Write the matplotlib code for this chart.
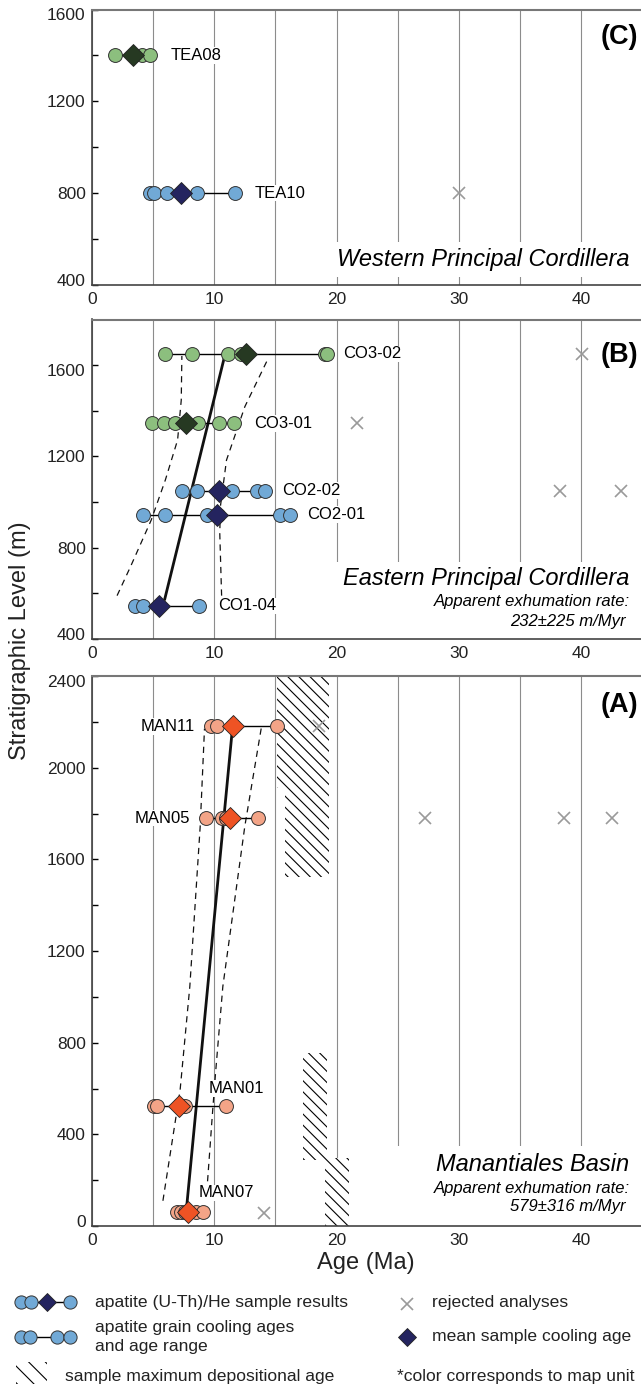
import numpy as np
import matplotlib
matplotlib.use('Agg')
import matplotlib.pyplot as plt
import matplotlib.transforms as mtransforms
from matplotlib.patches import Rectangle

plt.rcParams['font.family'] = ['Liberation Sans', 'DejaVu Sans']
plt.rcParams['hatch.linewidth'] = 0.8

# ---- (C) Western Principal Cordillera
c_names = ['TEA08', 'TEA10']
c_levels = [1400, 800]
c_grains = [[1.9, 4.1, 4.75], [4.75, 5.1, 6.1, 8.55, 11.7]]
c_means = [3.35, 7.25]
c_label_x = [6.45, 13.3]
c_rej_age = [30.05]
c_rej_lvl = [800]

# ---- (B) Eastern Principal Cordillera
b_names = ['CO3-02', 'CO3-01', 'CO2-02', 'CO2-01', 'CO1-04']
b_levels = [1650, 1345, 1050, 945, 545]
b_grains = [[5.98, 8.2, 11.1, 12.15, 19.05, 19.2],
            [4.9, 5.85, 6.8, 7.6, 8.65, 10.4, 11.6],
            [7.4, 8.6, 10.3, 11.45, 13.5, 14.15],
            [4.15, 6.0, 9.4, 10.3, 15.35, 16.2],
            [3.55, 4.15, 8.75]]
b_means = [12.6, 7.7, 10.35, 10.25, 5.5]
b_label_x = [20.5, 13.25, 15.55, 17.6, 10.35]
b_rej_age = [40.1, 21.7, 38.25, 43.25]
b_rej_lvl = [1650, 1345, 1050, 1050]
b_fit_age = [5.95, 10.85]
b_fit_lvl = [575, 1640]
b_lo_age = [2.05, 3.15, 4.85, 6.0, 7.0, 7.3, 7.35]
b_lo_lvl = [590, 717, 922, 1097, 1272, 1447, 1640]
b_hi_age = [10.6, 10.45, 10.5, 11.0, 12.5, 14.45]
b_hi_lvl = [590, 863, 980, 1184, 1418, 1634]

# ---- (A) Manantiales Basin
a_names = ['MAN11', 'MAN05', 'MAN01', 'MAN07']
a_levels = [2180, 1780, 525, 60]
a_grains = [[9.7, 10.2, 15.15],
            [9.35, 10.6, 11.0, 13.6],
            [5.1, 5.35, 7.6, 10.95],
            [6.95, 7.25, 7.6, 8.5, 9.05]]
a_means = [11.55, 11.25, 7.1, 7.85]
a_label_x = [8.45, 8.0, 9.5, 8.7]
a_label_y = [2180, 1780, 600, 145]
a_label_ha = ['right', 'right', 'left', 'left']
a_rej_age = [18.55, 27.2, 38.6, 42.55, 14.1]
a_rej_lvl = [2180, 1780, 1780, 1780, 55]
a_fit_age = [7.7, 11.5]
a_fit_lvl = [60, 2180]
a_lo_age = [5.8, 7.2, 8.0, 8.85, 9.2]
a_lo_lvl = [110, 590, 1045, 1745, 2170]
a_hi_age = [9.45, 9.85, 10.1, 10.7, 12.5, 13.85]
a_hi_lvl = [195, 490, 665, 1045, 1745, 2175]
# sample maximum depositional ages: (min age, max age), (min level, max level)
a_mda_age = [(15.15, 19.35), (15.8, 19.35), (17.25, 19.25), (19.05, 21.05)]
a_mda_lvl = [(1910, 2450), (1525, 2040), (290, 757), (-50, 297)]

GREEN, DKGREEN = '#8cbf7e', '#263922'
BLUE, NAVY = '#71a9d6', '#24245f'
SALMON, ORANGE = '#f3a487', '#ee5324'
REJ = '#9a9a9a'
HATCH = '\\\\\\'

W, H = 641.0, 1384.0
fig = plt.figure(figsize=(W / 100, H / 100), dpi=100)


def px_axes(top, bottom, left=92, right=641):
    return fig.add_axes([left / W, 1 - bottom / H, (right - left) / W, (bottom - top) / H])


def style(ax, ylim, major, minor):
    ax.set_xlim(0, 44.9)
    ax.set_ylim(*ylim)
    ax.set_xticks(np.arange(0, 41, 10))
    ax.set_xticks(np.arange(5, 45, 10), minor=True)
    ax.set_yticks(major)
    ax.set_yticks(minor, minor=True)
    ax.grid(axis='x', which='both', color='#8c8c8c', lw=0.8)
    ax.set_axisbelow(True)
    ax.tick_params(axis='x', which='both', length=0, pad=5, labelsize=12.5, labelcolor='#222222')
    ax.tick_params(axis='y', which='both', direction='in', length=4, width=1, pad=4.5,
                   labelsize=12.5, labelcolor='#222222')
    ax.spines['right'].set_visible(False)
    ax.spines['top'].set_color('#777777')
    ax.spines['top'].set_linewidth(1.5)
    for s in ['left', 'bottom']:
        ax.spines[s].set_color('#444444')
        ax.spines[s].set_linewidth(1.2)
    labels = ax.get_yticklabels()
    labels[0].set_transform(labels[0].get_transform() +
                            mtransforms.ScaledTranslation(0, 0.05, fig.dpi_scale_trans))
    labels[-1].set_transform(labels[-1].get_transform() +
                             mtransforms.ScaledTranslation(0, -0.05, fig.dpi_scale_trans))


def draw_samples(ax, levels, grains, means, face, dark):
    for lvl, g, m in zip(levels, grains, means):
        ax.plot([min(g), max(g)], [lvl, lvl], color='black', lw=1, zorder=3)
        ax.plot(g, [lvl] * len(g), 'o', ms=10, mfc=face, mec='#333333', mew=0.7, zorder=4)
        ax.plot([m], [lvl], 'D', ms=11, mfc=dark, mec='#222222', mew=0.6, zorder=5)


def white_box(ax, x0, y0, y1):
    ax.add_patch(Rectangle((x0, y0), 1 - x0, y1 - y0, transform=ax.transAxes,
                           facecolor='white', edgecolor='none', zorder=1))


lab_box = dict(facecolor='white', edgecolor='none', pad=0.5)

ax_c = px_axes(9.5, 285)
ax_b = px_axes(319.5, 639)
ax_a = px_axes(676, 1226)

# ---- panel C
style(ax_c, (400, 1600), [400, 800, 1200, 1600], [600, 1000, 1400])
draw_samples(ax_c, c_levels[:1], c_grains[:1], c_means[:1], GREEN, DKGREEN)
draw_samples(ax_c, c_levels[1:], c_grains[1:], c_means[1:], BLUE, NAVY)
ax_c.plot(c_rej_age, c_rej_lvl, 'x', ms=9, mew=1.2, color=REJ, zorder=4)
for name, x, y in zip(c_names, c_label_x, c_levels):
    ax_c.text(x, y, name, ha='left', va='center', fontsize=12, bbox=lab_box, zorder=3)
white_box(ax_c, 0.42, 0.03, 0.155)
ax_c.text(0.979, 0.091, 'Western Principal Cordillera', transform=ax_c.transAxes,
          ha='right', va='center', fontsize=17, style='italic', zorder=3)
ax_c.text(0.9945, 0.90, '(C)', transform=ax_c.transAxes, ha='right', va='center',
          fontsize=19.5, fontweight='bold', zorder=3)

# ---- panel B
style(ax_b, (400, 1800), [400, 800, 1200, 1600], [600, 1000, 1400])
ax_b.plot(b_fit_age, b_fit_lvl, color='#111111', lw=2, zorder=2)
ax_b.plot(b_lo_age, b_lo_lvl, color='#111111', lw=0.9, ls=(0, (5, 4)), zorder=2)
ax_b.plot(b_hi_age, b_hi_lvl, color='#111111', lw=0.9, ls=(0, (5, 4)), zorder=2)
draw_samples(ax_b, b_levels[:2], b_grains[:2], b_means[:2], GREEN, DKGREEN)
draw_samples(ax_b, b_levels[2:], b_grains[2:], b_means[2:], BLUE, NAVY)
ax_b.plot(b_rej_age, b_rej_lvl, 'x', ms=9, mew=1.2, color=REJ, zorder=4)
for name, x, y in zip(b_names, b_label_x, b_levels):
    ax_b.text(x, y, name, ha='left', va='center', fontsize=12, bbox=lab_box, zorder=3)
white_box(ax_b, 0.43, 0.0, 0.24)
ax_b.text(0.979, 0.188, 'Eastern Principal Cordillera', transform=ax_b.transAxes,
          ha='right', va='center', fontsize=17, style='italic', zorder=3)
ax_b.text(0.979, 0.117, 'Apparent exhumation rate:', transform=ax_b.transAxes,
          ha='right', va='center', fontsize=12, style='italic', zorder=3)
ax_b.text(0.972, 0.054, '232\u00b1225 m/Myr', transform=ax_b.transAxes,
          ha='right', va='center', fontsize=12, style='italic', zorder=3)
ax_b.text(0.9945, 0.89, '(B)', transform=ax_b.transAxes, ha='right', va='center',
          fontsize=19.5, fontweight='bold', zorder=3)

# ---- panel A
style(ax_a, (0, 2400), np.arange(0, 2401, 400), np.arange(200, 2400, 400))
for (x0, x1), (y0, y1) in zip(a_mda_age, a_mda_lvl):
    ax_a.add_patch(Rectangle((x0, y0), x1 - x0, y1 - y0, facecolor='white',
                             edgecolor='black', lw=0, hatch=HATCH, zorder=1.2))
ax_a.plot(a_fit_age, a_fit_lvl, color='#111111', lw=2, zorder=2)
ax_a.plot(a_lo_age, a_lo_lvl, color='#111111', lw=0.9, ls=(0, (5, 4)), zorder=2)
ax_a.plot(a_hi_age, a_hi_lvl, color='#111111', lw=0.9, ls=(0, (5, 4)), zorder=2)
draw_samples(ax_a, a_levels, a_grains, a_means, SALMON, ORANGE)
ax_a.plot(a_rej_age, a_rej_lvl, 'x', ms=9, mew=1.2, color=REJ, zorder=4)
for name, x, y, ha in zip(a_names, a_label_x, a_label_y, a_label_ha):
    ax_a.text(x, y, name, ha=ha, va='center', fontsize=12, bbox=lab_box, zorder=3)
white_box(ax_a, 0.54, 0.0, 0.145)
ax_a.text(0.979, 0.111, 'Manantiales Basin', transform=ax_a.transAxes,
          ha='right', va='center', fontsize=17, style='italic', zorder=3)
ax_a.text(0.979, 0.0685, 'Apparent exhumation rate:', transform=ax_a.transAxes,
          ha='right', va='center', fontsize=12, style='italic', zorder=3)
ax_a.text(0.972, 0.035, '579\u00b1316 m/Myr', transform=ax_a.transAxes,
          ha='right', va='center', fontsize=12, style='italic', zorder=3)
ax_a.text(0.9945, 0.947, '(A)', transform=ax_a.transAxes, ha='right', va='center',
          fontsize=19.5, fontweight='bold', zorder=3)

fig.text(20 / W, 1 - 641 / H, 'Stratigraphic Level (m)', rotation=90, ha='center',
         va='center', fontsize=17, color='#222222')
fig.text(366 / W, 1 - 1263 / H, 'Age (Ma)', ha='center', va='center', fontsize=17,
         color='#222222')

# ---- legend (drawn in pixel space below the panels)
LEG_FS = 12.6
lax = fig.add_axes([0, 0, 1, 1])
lax.set_xlim(0, W)
lax.set_ylim(H, 0)
lax.axis('off')
lax.plot([30.5, 70], [1302, 1302], color='black', lw=1)
lax.plot([20.5, 30.5, 70], [1302] * 3, 'o', ms=9.5, mfc=BLUE, mec='#333333', mew=0.7)
lax.plot([47], [1302], 'D', ms=9, mfc=NAVY, mec='#222222', mew=0.6)
lax.text(95, 1302, 'apatite (U-Th)/He sample results', va='center', fontsize=LEG_FS,
         color='#222222')
lax.plot([29.5, 70], [1337, 1337], color='black', lw=1)
lax.plot([20.5, 29.5, 57, 70], [1337] * 4, 'o', ms=9.5, mfc=BLUE, mec='#333333', mew=0.7)
lax.text(95, 1337, 'apatite grain cooling ages\nand age range', va='center', fontsize=LEG_FS,
         linespacing=1.3, color='#222222')
lax.add_patch(Rectangle((16, 1362), 31, 30, facecolor='white', edgecolor='black', lw=0,
                        hatch='\\\\'))
lax.text(65, 1376, 'sample maximum depositional age', va='center', fontsize=LEG_FS,
         color='#222222')
lax.plot([407], [1304], 'x', ms=9, mew=1.2, color=REJ)
lax.text(432, 1302, 'rejected analyses', va='center', fontsize=LEG_FS, color='#222222')
lax.plot([407], [1337], 'D', ms=9, mfc=NAVY, mec='#222222', mew=0.6)
lax.text(432, 1337, 'mean sample cooling age', va='center', fontsize=LEG_FS, color='#222222')
lax.text(397, 1376, '*color corresponds to map unit', va='center', fontsize=LEG_FS,
         color='#222222')

fig.savefig('out.png', dpi=100)
